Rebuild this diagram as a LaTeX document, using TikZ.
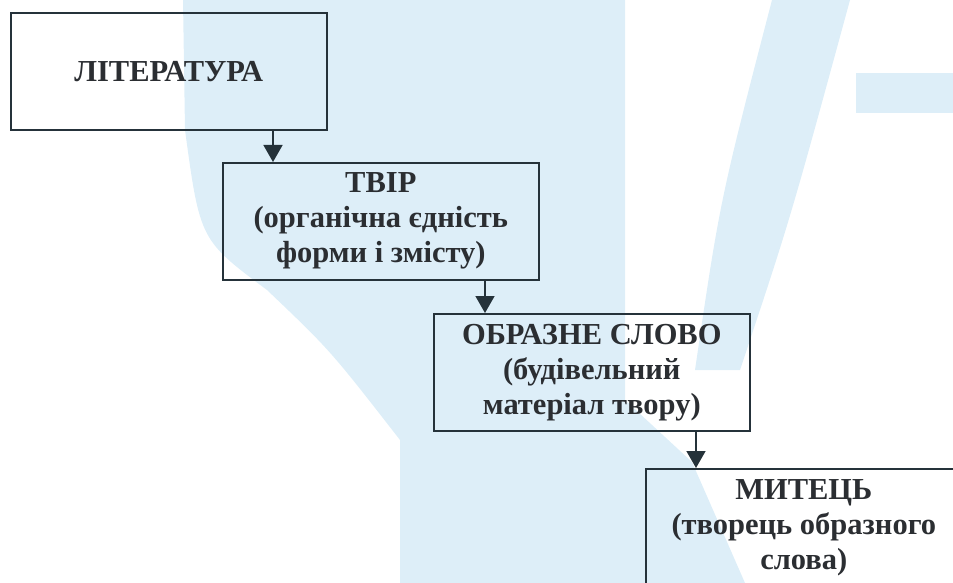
\documentclass[tikz,border=0pt]{standalone}
\usepackage{fontspec}
\setmainfont{Liberation Serif}
\usepackage{xcolor}
\usetikzlibrary{arrows.meta}

\definecolor{wmark}{HTML}{DDEEF8}
\definecolor{framec}{HTML}{25323A}
\definecolor{textc}{HTML}{2B2E32}

\begin{document}
\begin{tikzpicture}[x=1pt, y=-1pt,
    box/.style={draw=framec, line width=1.6pt, minimum width=316pt,
      minimum height=117pt, inner sep=0pt, align=center, anchor=north west,
      text=textc, font=\bfseries\fontsize{30.5}{35}\selectfont},
    flow/.style={draw=framec, line width=1.5pt,
      -{Triangle[width=19pt,length=17pt]}}]
	  % Sizes
	  \def\Wpage{953}   % picture width
	  \def\Hpage{583}   % picture height
	  \def\Aoff{263}    % arrow offset from the left side of a box
	
	  % Page
	  \useasboundingbox (0,0) rectangle (\Wpage,\Hpage);
	  \clip (0,0) rectangle (\Wpage,\Hpage);
	
	  % Watermark in the background
	  \fill[wmark] (183,0) -- (625,0) -- (625,400) -- (692,462) -- (745,583)
	    -- (400,583) -- (400,440) .. controls (330,350) .. (267,290)
	    .. controls (200,240) .. (185,130) -- cycle;
	  \fill[wmark] (772,0) -- (850,0) .. controls (790,220) .. (740,370)
	    -- (695,370) .. controls (720,200) .. cycle;
	  \fill[wmark] (856,73) rectangle (\Wpage,113);
	
	  % Boxes
	  \node[box] (lit) at (10,12) {ЛІТЕРАТУРА};
	  \node[box] (tvir) at (222,162) {ТВІР\\(органічна єдність\\форми і змісту)};
	  \node[box] (obraz) at (433,313) {ОБРАЗНЕ СЛОВО\\(будівельний\\матеріал твору)};
	  \node[box] (mytets) at (645,468) {МИТЕЦЬ\\(творець образного\\слова)};
	
	  % Arrows between the boxes
	  \coordinate (a1) at ([xshift=\Aoff pt]lit.south west);
	  \coordinate (a2) at ([xshift=\Aoff pt]tvir.south west);
	  \coordinate (a3) at ([xshift=\Aoff pt]obraz.south west);
	  \draw[flow] (a1) -- (a1 |- tvir.north);
	  \draw[flow] (a2) -- (a2 |- obraz.north);
	  \draw[flow] (a3) -- (a3 |- mytets.north);
	\end{tikzpicture}
\end{document}
